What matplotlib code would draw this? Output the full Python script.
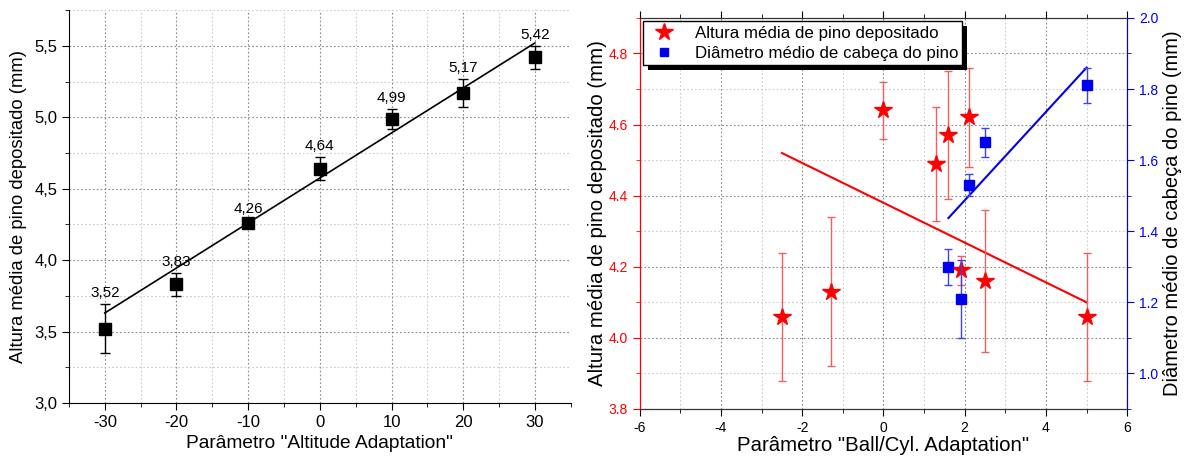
import matplotlib
matplotlib.use("Agg")
import matplotlib.pyplot as plt
import matplotlib.patheffects as pe
from matplotlib.lines import Line2D
from matplotlib.ticker import MultipleLocator, FuncFormatter

plt.rcParams['font.family'] = ['Liberation Sans', 'DejaVu Sans']
plt.rcParams['axes.unicode_minus'] = False

# altitude adaptation sweep
alt_x = [-30, -20, -10, 0, 10, 20, 30]
alt_h = [3.52, 3.83, 4.26, 4.64, 4.99, 5.17, 5.42]
alt_err = [0.17, 0.08, 0.02, 0.08, 0.07, 0.10, 0.08]
alt_fit_x = [-30, 30]
alt_fit_y = [3.63, 5.52]

# ball/cyl adaptation sweep - height
bc_x = [-2.5, -1.3, 0.0, 1.3, 1.6, 1.9, 2.1, 2.5, 5.0]
bc_h = [4.06, 4.13, 4.64, 4.49, 4.57, 4.19, 4.62, 4.16, 4.06]
bc_h_err = [0.18, 0.21, 0.08, 0.16, 0.18, 0.04, 0.14, 0.20, 0.18]
bc_h_fit_x = [-2.5, 5.0]
bc_h_fit_y = [4.52, 4.10]

# ball/cyl adaptation sweep - head diameter
bc_dx = [1.6, 1.9, 2.1, 2.5, 5.0]
bc_d = [1.30, 1.21, 1.53, 1.65, 1.81]
bc_d_err = [0.05, 0.11, 0.03, 0.04, 0.05]
bc_d_fit_x = [1.6, 5.0]
bc_d_fit_y = [1.437, 1.86]

RED = '#ff0000'
BLUE = '#0000ee'

fig = plt.figure(figsize=(11.89, 4.59), dpi=100)
ax1 = fig.add_axes([0.058, 0.122, 0.422, 0.856])
ax2 = fig.add_axes([0.538, 0.109, 0.410, 0.852])


def dotted_grid(ax):
    ax.grid(True, which='major', linestyle=(0, (1.5, 2)), color='#888888', linewidth=0.8)
    ax.grid(True, which='minor', linestyle=(0, (1.5, 2)), color='#cccccc', linewidth=0.8)
    ax.set_axisbelow(True)


# left panel
ax1.errorbar(alt_x, alt_h, yerr=alt_err, fmt='s', color='black', ms=8,
             capsize=3.5, elinewidth=1, capthick=1, zorder=3)
ax1.plot(alt_fit_x, alt_fit_y, color='black', lw=1.2, zorder=2)
for x, y, e in zip(alt_x, alt_h, alt_err):
    ax1.annotate(f"{y:.2f}".replace('.', ','), (x, y + e), xytext=(0, 8),
                 textcoords='offset points', ha='center', va='center', fontsize=11)
ax1.set_xlim(-35, 35)
ax1.set_ylim(3.0, 5.75)
ax1.xaxis.set_major_locator(MultipleLocator(10))
ax1.xaxis.set_minor_locator(MultipleLocator(5))
ax1.yaxis.set_major_locator(MultipleLocator(0.5))
ax1.yaxis.set_minor_locator(MultipleLocator(0.25))
ax1.yaxis.set_major_formatter(FuncFormatter(lambda v, p: f"{v:.1f}".replace('.', ',')))
ax1.spines['top'].set_visible(False)
ax1.spines['right'].set_visible(False)
ax1.tick_params(which='major', direction='out', length=5, labelsize=12)
ax1.tick_params(which='minor', direction='out', length=3)
dotted_grid(ax1)
ax1.set_xlabel('Parâmetro "Altitude Adaptation"', fontsize=13.8, labelpad=4)
ax1.set_ylabel('Altura média de pino depositado (mm)', fontsize=13.3, labelpad=5)

# right panel
ax2.errorbar(bc_x, bc_h, yerr=bc_h_err, fmt='*', color=RED, ecolor='#f06060', ms=13,
             capsize=3, elinewidth=1, capthick=1, zorder=3)
ax2.plot(bc_h_fit_x, bc_h_fit_y, color=RED, lw=1.5, zorder=2)
ax2.set_xlim(-6, 6)
ax2.set_ylim(3.8, 4.9)
ax2.xaxis.set_major_locator(MultipleLocator(2))
ax2.xaxis.set_minor_locator(MultipleLocator(1))
ax2.yaxis.set_major_locator(MultipleLocator(0.2))
ax2.yaxis.set_minor_locator(MultipleLocator(0.1))
ax2.yaxis.set_major_formatter(FuncFormatter(lambda v, p: f"{v:.1f}"))
dotted_grid(ax2)

ax3 = ax2.twinx()
ax3.errorbar(bc_dx, bc_d, yerr=bc_d_err, fmt='s', color=BLUE, ecolor='#4040ee', ms=6.5,
             capsize=3, elinewidth=1, capthick=1, zorder=3)
ax3.plot(bc_d_fit_x, bc_d_fit_y, color=BLUE, lw=1.5, zorder=2)
ax3.set_ylim(0.9, 2.0)
ax3.yaxis.set_major_locator(MultipleLocator(0.2))
ax3.yaxis.set_minor_locator(MultipleLocator(0.1))
ax3.yaxis.set_major_formatter(FuncFormatter(lambda v, p: f"{v:.1f}"))

for ax in (ax2, ax3):
    ax.spines['left'].set_color(RED)
    ax.spines['right'].set_color(BLUE)
    ax.spines['top'].set_color('#333333')
    ax.spines['bottom'].set_color('#333333')
ax2.tick_params(which='major', direction='out', length=5, labelsize=10, top=True)
ax2.tick_params(which='minor', direction='out', length=3, top=True)
ax2.tick_params(axis='y', which='both', colors=RED)
ax3.tick_params(which='major', direction='out', length=5, labelsize=10, colors=BLUE)
ax3.tick_params(which='minor', direction='out', length=3, colors=BLUE)

ax2.set_xlabel('Parâmetro "Ball/Cyl. Adaptation"', fontsize=14.7, labelpad=1)
ax2.set_ylabel('Altura média de pino depositado (mm)', fontsize=14.7, labelpad=1)
ax3.set_ylabel('Diâmetro médio de cabeça do pino (mm)', fontsize=14.5, labelpad=3)

handles = [
    Line2D([], [], marker='*', color=RED, ls='none', ms=13),
    Line2D([], [], marker='s', color=BLUE, ls='none', ms=6),
]
leg = ax3.legend(handles, ['Altura média de pino depositado', 'Diâmetro médio de cabeça do pino'],
                 loc='upper left', fontsize=12.2, frameon=True, fancybox=False,
                 edgecolor='black', framealpha=1, borderpad=0.25, labelspacing=0.3,
                 handletextpad=0.8, borderaxespad=0.2)
frame = leg.get_frame()
frame.set_linewidth(1.0)
frame.set_path_effects([pe.SimplePatchShadow(offset=(3.5, -3.5), shadow_rgbFace='black', alpha=1),
                        pe.Normal()])

fig.savefig('out.png', dpi=100)
